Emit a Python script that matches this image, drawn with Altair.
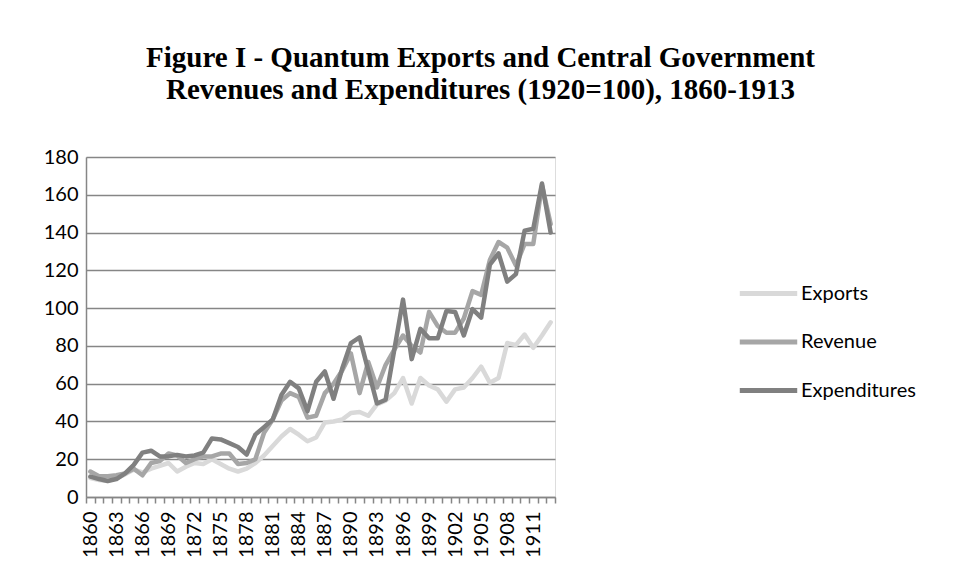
import altair as alt
import pandas as pd

years = list(range(1860, 1914))

exports = [10, 9, 8.5, 10, 12, 14.5, 13, 15, 16.5, 18,
           13.5, 16, 18, 17.5, 20, 17.5, 15, 13.5, 15, 18,
           22, 27, 32, 36, 33, 29.5, 31.5, 39.5, 40, 41,
           44.5, 45, 43, 49, 51, 55, 63, 49.5, 63, 59,
           57, 50.5, 57, 58, 63, 69, 60.5, 63, 81.5, 80.5,
           86, 79, 85.5, 92.5]

revenue = [13.5, 11, 11, 11.5, 12.5, 15, 11.5, 18, 19, 23,
           22, 18, 20, 21.5, 21.5, 23, 23, 17.5, 18, 20,
           34, 41, 51, 55, 53, 42, 43, 55, 60, 67,
           76, 55, 71.5, 58, 70, 78, 85.5, 80, 76.5, 98,
           90.5, 87, 87, 94.5, 109, 107, 125.5, 135, 132, 122.5,
           134, 134, 165, 144.5]

expenditures = [10.8, 9.5, 8.5, 9.5, 12.5, 17, 23.5, 24.5, 21.5, 21.5,
                22.3, 21.5, 22, 23.5, 31, 30.5, 28.5, 26.5, 22.5, 33,
                37, 41, 54, 61, 57.5, 45.5, 61, 66.5, 52, 68,
                81.5, 84.5, 67, 49.5, 51.5, 78, 104.5, 73, 89, 84,
                84, 98.5, 98, 85.5, 99.5, 95, 123, 129, 114, 118,
                141, 142, 166, 140]

series_names = ["Exports", "Revenue", "Expenditures"]
series_colors = ["#D9D9D9", "#A6A6A6", "#808080"]
y_ticks = list(range(0, 181, 20))

assert len(exports) == len(years) == len(revenue) == len(expenditures)

rows = []
for name, vals in zip(series_names, [exports, revenue, expenditures]):
    for yr, v in zip(years, vals):
        rows.append({"Year": yr, "Value": v, "Series": name})
df = pd.DataFrame(rows)

label_font = "Lato"
grid_col = "#868686"

chart = alt.Chart(df).mark_line(strokeWidth=4.5, strokeJoin="round", strokeCap="round").encode(
    x=alt.X(
        "Year:O",
        bandPosition=0.5,
        scale=alt.Scale(type="band", paddingInner=0, paddingOuter=0),
        sort=None,
        axis=alt.Axis(
            title=None,
            labelExpr="(datum.value - 1860) % 3 == 0 ? datum.label : ''",
            labelAngle=270,
            labelAlign="right",
            labelBaseline="middle",
            labelFont=label_font,
            labelFontSize=20,
            labelColor="black",
            labelPadding=8,
            labelOverlap=False,
            tickBand="extent",
            tickSize=6,
            tickColor=grid_col,
            tickWidth=1.5,
            domainColor=grid_col,
            domainWidth=1.5,
            grid=False,
        ),
    ),
    y=alt.Y(
        "Value:Q",
        scale=alt.Scale(domain=[0, 180], nice=False),
        axis=alt.Axis(
            title=None,
            values=y_ticks,
            labelFont=label_font,
            labelFontSize=20,
            labelColor="black",
            labelPadding=8,
            ticks=False,
            grid=True,
            gridColor=grid_col,
            gridWidth=1.5,
            domainColor=grid_col,
            domainWidth=1.5,
        ),
    ),
    color=alt.Color(
        "Series:N",
        scale=alt.Scale(domain=series_names, range=series_colors),
        legend=alt.Legend(
            title=None,
            orient="none",
            legendX=651,
            legendY=105,
            symbolType="stroke",
            symbolSize=3300,
            symbolStrokeWidth=5,
            labelFont=label_font,
            labelFontSize=20,
            labelColor="black",
            labelOffset=1,
            rowPadding=6.5,
            padding=0,
        ),
    ),
    detail="Series:N",
).properties(
    width=469,
    height=340,
    autosize=alt.AutoSizeParams(type="none"),
    padding={"left": 78, "top": 149, "right": 394, "bottom": 75},
    title=alt.TitleParams(
        ["Figure I - Quantum Exports and Central Government",
         "Revenues and Expenditures (1920=100), 1860-1913"],
        font="Liberation Serif",
        fontSize=29,
        fontWeight="bold",
        color="black",
        anchor="middle",
        dx=160,
        offset=42,
        lineHeight=32,
    ),
).configure_view(stroke=None).configure(background="white")

chart.save("out.html", embed_options={"renderer": "svg", "actions": False})
